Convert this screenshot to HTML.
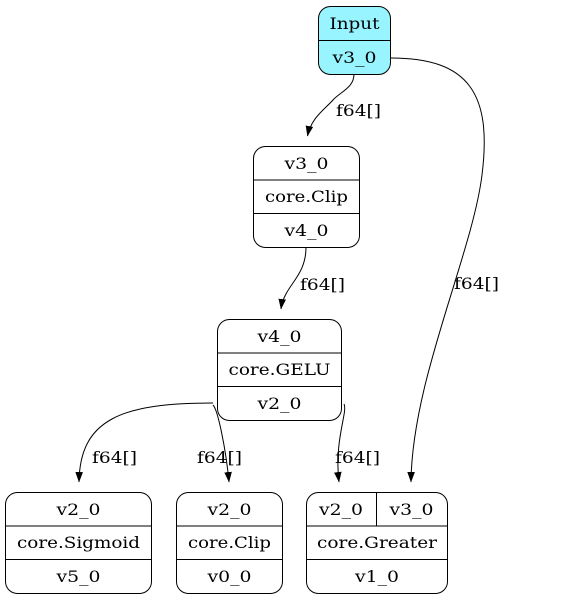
<!DOCTYPE html>
<html><head><meta charset="utf-8"><style>
html,body{margin:0;padding:0;background:#fff;}
svg{display:block;}
</style></head><body>
<svg width="586" height="601" viewBox="0 0 586 601" xmlns="http://www.w3.org/2000/svg" font-family="'DejaVu Serif', serif" font-size="16">
<defs>
<marker id="a" markerWidth="11" markerHeight="10" refX="10" refY="5" orient="auto" markerUnits="userSpaceOnUse">
<path d="M0,1.2 L10.5,5 L0,8.8 Z" fill="#000"/>
</marker>
</defs>
<g fill="none" stroke="#000" stroke-width="1">
<path d="M354,74 C354,88 340,92 333,100 C325,109 311,118 307.5,136" marker-end="url(#a)"/>
<path d="M391,58 C470,58 492,95 482,175 C472,255 412,380 411,482" marker-end="url(#a)"/>
<path d="M306,247 C306,278 284,285 281,309" marker-end="url(#a)"/>
<path d="M213,403 C120,403 80,420 79,482" marker-end="url(#a)"/>
<path d="M213,405 C218,410 226,450 229,482" marker-end="url(#a)"/>
<path d="M344,404 C348,412 334,440 339,482" marker-end="url(#a)"/>
</g>
<g fill="#000" font-family="'DejaVu Serif', serif" font-size="16">
<rect x="318.5" y="6.5" width="72" height="68" rx="12" fill="#98f5ff" stroke="#000"/>
<line x1="318.5" y1="40.5" x2="390.5" y2="40.5" stroke="#000"/>
<text x="354.5" y="29" text-anchor="middle" textLength="50" lengthAdjust="spacingAndGlyphs">Input</text>
<text x="354.5" y="63" text-anchor="middle" textLength="44" lengthAdjust="spacingAndGlyphs">v3_0</text>

<rect x="253.5" y="146.5" width="106" height="101" rx="12" fill="none" stroke="#000"/>
<line x1="253.5" y1="180" x2="359.5" y2="180" stroke="#000"/>
<line x1="253.5" y1="213.5" x2="359.5" y2="213.5" stroke="#000"/>
<text x="306.5" y="169" text-anchor="middle" textLength="44" lengthAdjust="spacingAndGlyphs">v3_0</text>
<text x="306.5" y="202" text-anchor="middle" textLength="83" lengthAdjust="spacingAndGlyphs">core.Clip</text>
<text x="306.5" y="236" text-anchor="middle" textLength="44" lengthAdjust="spacingAndGlyphs">v4_0</text>

<rect x="217.5" y="319.5" width="124" height="101" rx="12" fill="none" stroke="#000"/>
<line x1="217.5" y1="353" x2="341.5" y2="353" stroke="#000"/>
<line x1="217.5" y1="386.5" x2="341.5" y2="386.5" stroke="#000"/>
<text x="279.5" y="342" text-anchor="middle" textLength="44" lengthAdjust="spacingAndGlyphs">v4_0</text>
<text x="279.5" y="375" text-anchor="middle" textLength="102" lengthAdjust="spacingAndGlyphs">core.GELU</text>
<text x="279.5" y="409" text-anchor="middle" textLength="44" lengthAdjust="spacingAndGlyphs">v2_0</text>

<rect x="5.5" y="492.5" width="146" height="101" rx="12" fill="none" stroke="#000"/>
<line x1="5.5" y1="526" x2="151.5" y2="526" stroke="#000"/>
<line x1="5.5" y1="559.5" x2="151.5" y2="559.5" stroke="#000"/>
<text x="78.5" y="515" text-anchor="middle" textLength="44" lengthAdjust="spacingAndGlyphs">v2_0</text>
<text x="78.5" y="548" text-anchor="middle" textLength="123" lengthAdjust="spacingAndGlyphs">core.Sigmoid</text>
<text x="78.5" y="582" text-anchor="middle" textLength="44" lengthAdjust="spacingAndGlyphs">v5_0</text>

<rect x="176.5" y="492.5" width="106" height="101" rx="12" fill="none" stroke="#000"/>
<line x1="176.5" y1="526" x2="282.5" y2="526" stroke="#000"/>
<line x1="176.5" y1="559.5" x2="282.5" y2="559.5" stroke="#000"/>
<text x="229.5" y="515" text-anchor="middle" textLength="44" lengthAdjust="spacingAndGlyphs">v2_0</text>
<text x="229.5" y="548" text-anchor="middle" textLength="83" lengthAdjust="spacingAndGlyphs">core.Clip</text>
<text x="229.5" y="582" text-anchor="middle" textLength="44" lengthAdjust="spacingAndGlyphs">v0_0</text>

<rect x="306.5" y="492.5" width="141" height="101" rx="12" fill="none" stroke="#000"/>
<line x1="306.5" y1="526" x2="447.5" y2="526" stroke="#000"/>
<line x1="306.5" y1="559.5" x2="447.5" y2="559.5" stroke="#000"/>
<line x1="376.5" y1="492.5" x2="376.5" y2="526" stroke="#000"/>
<text x="341" y="515" text-anchor="middle" textLength="44" lengthAdjust="spacingAndGlyphs">v2_0</text>
<text x="411.5" y="515" text-anchor="middle" textLength="44" lengthAdjust="spacingAndGlyphs">v3_0</text>
<text x="377" y="548" text-anchor="middle" textLength="120" lengthAdjust="spacingAndGlyphs">core.Greater</text>
<text x="377" y="582" text-anchor="middle" textLength="44" lengthAdjust="spacingAndGlyphs">v1_0</text>

<text x="336" y="116" textLength="45" lengthAdjust="spacingAndGlyphs">f64[]</text>
<text x="454" y="289" textLength="45" lengthAdjust="spacingAndGlyphs">f64[]</text>
<text x="300" y="290" textLength="45" lengthAdjust="spacingAndGlyphs">f64[]</text>
<text x="92" y="463" textLength="45" lengthAdjust="spacingAndGlyphs">f64[]</text>
<text x="197" y="463" textLength="45" lengthAdjust="spacingAndGlyphs">f64[]</text>
<text x="335" y="463" textLength="45" lengthAdjust="spacingAndGlyphs">f64[]</text>
</g>
</svg>
</body></html>
